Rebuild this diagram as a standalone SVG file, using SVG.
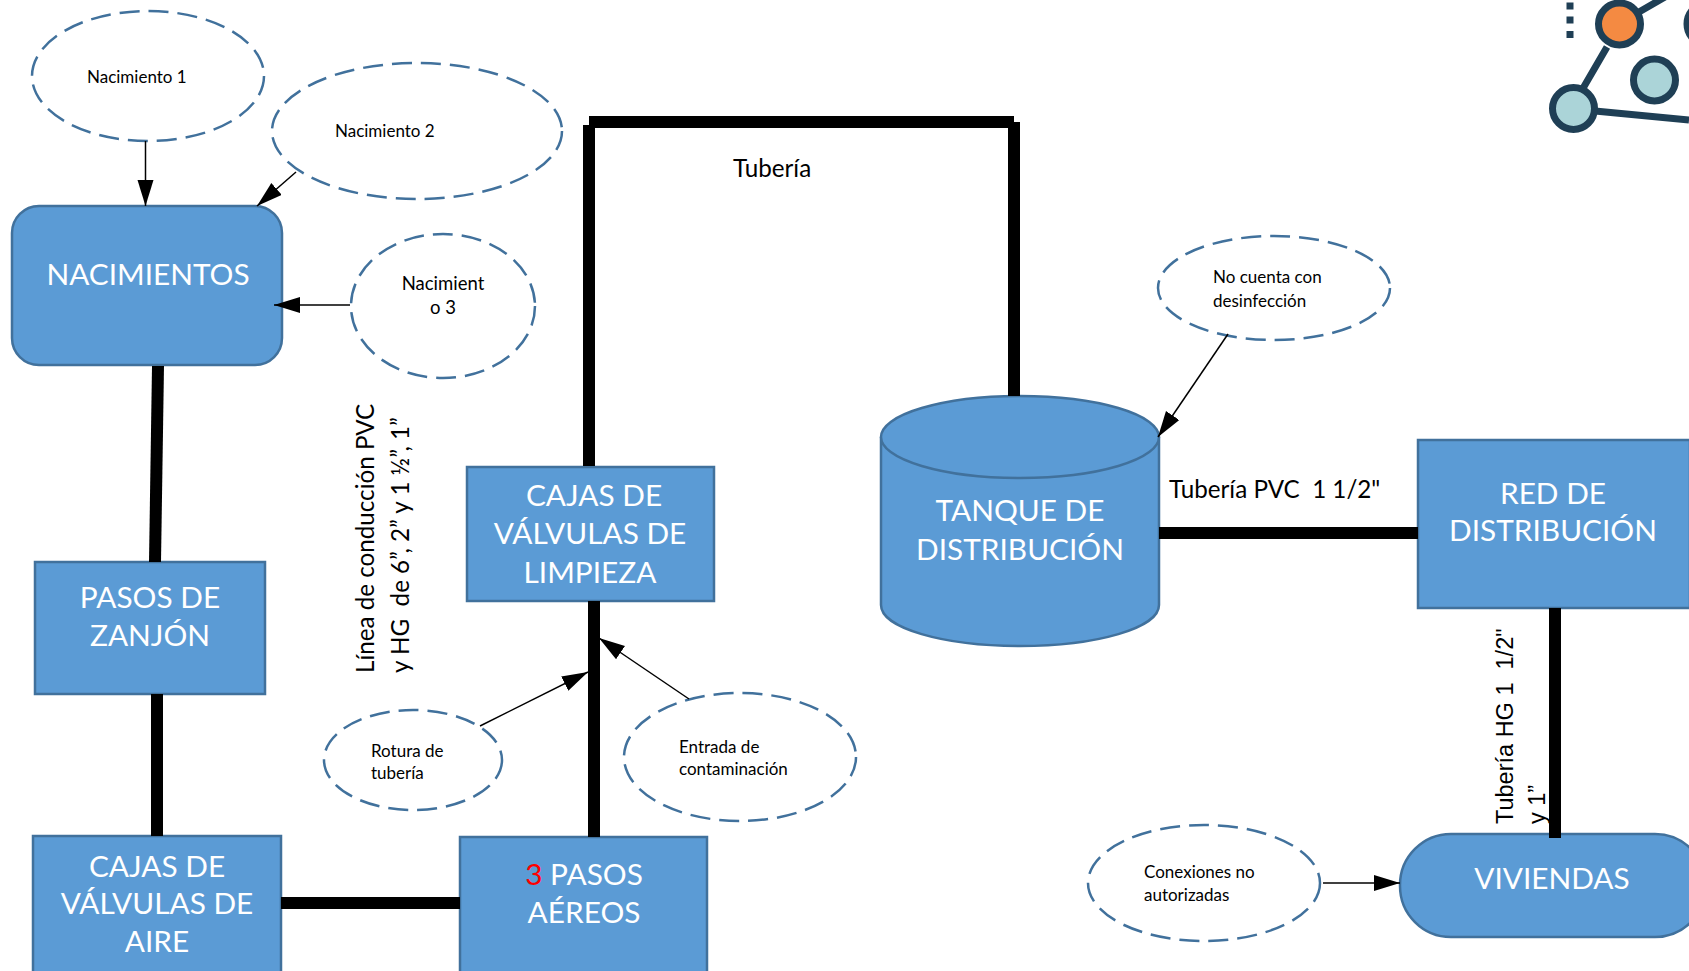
<svg xmlns="http://www.w3.org/2000/svg" width="1689" height="971" viewBox="0 0 1689 971">
<style>
.box{fill:#5b9bd5;stroke:#41719c;stroke-width:2.5}
.oval{fill:#fff;stroke:#41719c;stroke-width:2.5;stroke-dasharray:20 9}
.pipe{fill:none;stroke:#000;stroke-width:12}
.thin{fill:none;stroke:#000;stroke-width:1.5;marker-end:url(#a)}
.h{font-family:Lato,"Liberation Sans",sans-serif;font-size:29.800px;fill:#fff;text-anchor:middle}
.s{font-family:Lato,"Liberation Sans",sans-serif;font-size:17px;fill:#000}
.m{font-family:Lato,"Liberation Sans",sans-serif;font-size:24.200px;fill:#000;white-space:pre}
.a{font-family:"Liberation Sans",Arial,sans-serif;font-size:23.500px;fill:#000;white-space:pre}
.ic{fill:none;stroke:#1f3f55;stroke-width:7}
</style>
<defs><marker id="a" markerUnits="userSpaceOnUse" markerWidth="28" markerHeight="18" refX="26" refY="8" orient="auto"><path d="M0 0L26 8L0 16Z" fill="#000"/></marker></defs>
<rect width="1689" height="971" fill="#fff"/>
<g id="n-nacimiento1"><ellipse class="oval" cx="148" cy="76" rx="116" ry="65"/><text class="s" x="87" y="83">Nacimiento 1</text></g>
<g id="n-nacimiento2"><ellipse class="oval" cx="417" cy="131" rx="145" ry="68"/><text class="s" x="335" y="137">Nacimiento 2</text></g>
<g id="n-nacimiento3"><ellipse class="oval" cx="443" cy="306" rx="92" ry="72"/><text class="s" style="font-size:18.500px;text-anchor:middle" x="443" y="290">Nacimient</text><text class="s" style="font-size:18.500px;text-anchor:middle" x="443" y="314">o 3</text></g>
<g id="n-nacimientos"><rect class="box" x="12" y="206" width="270" height="159" rx="27"/><text class="h" x="148" y="285">NACIMIENTOS</text></g>
<g id="n-zanjon"><rect class="box" x="35" y="562" width="230" height="132"/><text class="h" x="150" y="608">PASOS DE</text><text class="h" x="150" y="646">ZANJÓN</text></g>
<g id="n-aire"><rect class="box" x="33" y="836" width="248" height="150"/><text class="h" x="157" y="877">CAJAS DE</text><text class="h" x="157" y="914">VÁLVULAS DE</text><text class="h" x="157" y="952">AIRE</text></g>
<g id="n-aereos"><rect class="box" x="460" y="837" width="247" height="150"/><text class="h" x="584" y="885"><tspan fill="#f00">3</tspan> PASOS</text><text class="h" x="584" y="923">AÉREOS</text></g>
<g id="n-limpieza"><rect class="box" x="467" y="467" width="247" height="134"/><text class="h" x="594" y="506">CAJAS DE</text><text class="h" x="590" y="544">VÁLVULAS DE</text><text class="h" x="590" y="583">LIMPIEZA</text></g>
<g id="n-tanque"><path class="box" d="M881 437V605C881 628 943 646 1020 646S1159 628 1159 605V437"/><ellipse class="box" cx="1020" cy="437" rx="139" ry="41"/><text class="h" x="1020" y="521">TANQUE DE</text><text class="h" x="1020" y="560">DISTRIBUCIÓN</text></g>
<g id="n-red"><rect class="box" x="1418" y="440" width="272" height="168"/><text class="h" x="1553" y="504">RED DE</text><text class="h" x="1553" y="541">DISTRIBUCIÓN</text></g>
<g id="n-viviendas"><rect class="box" x="1400" y="834" width="306" height="103" rx="51"/><text class="h" x="1552" y="889">VIVIENDAS</text></g>
<g id="n-rotura"><ellipse class="oval" cx="413" cy="760" rx="89" ry="50"/><text class="s" x="371" y="757">Rotura de</text><text class="s" x="371" y="779">tubería</text></g>
<g id="n-entrada"><ellipse class="oval" cx="740" cy="757" rx="116" ry="64"/><text class="s" x="679" y="753">Entrada de</text><text class="s" x="679" y="775">contaminación</text></g>
<g id="n-desinfeccion"><ellipse class="oval" cx="1274" cy="288" rx="116" ry="52"/><text class="s" x="1213" y="283">No cuenta con</text><text class="s" x="1213" y="307">desinfección</text></g>
<g id="n-conexiones"><ellipse class="oval" cx="1204" cy="883" rx="116" ry="58"/><text class="s" x="1144" y="878">Conexiones no</text><text class="s" x="1144" y="901">autorizadas</text></g>
<g id="connectors">
<path class="pipe" d="M589 466V125"/>
<path class="pipe" d="M589 122H1014"/>
<path class="pipe" d="M1014 122V396"/>
<path class="pipe" d="M158 366L155 562"/>
<path class="pipe" d="M157 694V836"/>
<path class="pipe" d="M281 903H460"/>
<path class="pipe" d="M594 601V837"/>
<path class="pipe" d="M1159 533H1418"/>
<path class="pipe" d="M1555 608V838"/>
<path class="thin" d="M145.500 141V206"/>
<path class="thin" d="M296 172L257 206"/>
<path class="thin" d="M350 305H274"/>
<path class="thin" d="M480 726L588 672"/>
<path class="thin" d="M689 699L599 638"/>
<path class="thin" d="M1228 334L1158 437"/>
<path class="thin" d="M1323 883H1400"/>
</g>
<text class="m" x="733" y="177">Tubería</text>
<text class="m" x="1169" y="498">Tubería PVC  1 1/2"</text>
<text class="m" transform="translate(374 673) rotate(-90)">Línea de conducción PVC</text>
<text class="m" transform="translate(409 673) rotate(-90)">y HG  de 6”, 2” y 1 ½”, 1”</text>
<text class="a" transform="translate(1513 824) rotate(-90)">Tubería HG 1  1/2"</text>
<text class="a" transform="translate(1545 824) rotate(-90)">y 1”</text>
<g id="icon">
<path class="ic" d="M1607 47L1582 90M1639 12L1665 -3M1595 111L1689 120"/>
<circle class="ic" cx="1619.500" cy="24" r="21" style="fill:#f48a42"/>
<circle class="ic" cx="1654.500" cy="80" r="21" style="fill:#abd4d8"/>
<circle class="ic" cx="1573.500" cy="108.500" r="21" style="fill:#abd4d8"/>
<circle class="ic" cx="1708" cy="24" r="21" style="fill:#abd4d8"/>
<path fill="#1f3f55" d="M1566.500 2.500h7v7h-7zM1566.500 16.500h7v7h-7zM1566.500 31h7v7h-7z"/>
</g>
</svg>
